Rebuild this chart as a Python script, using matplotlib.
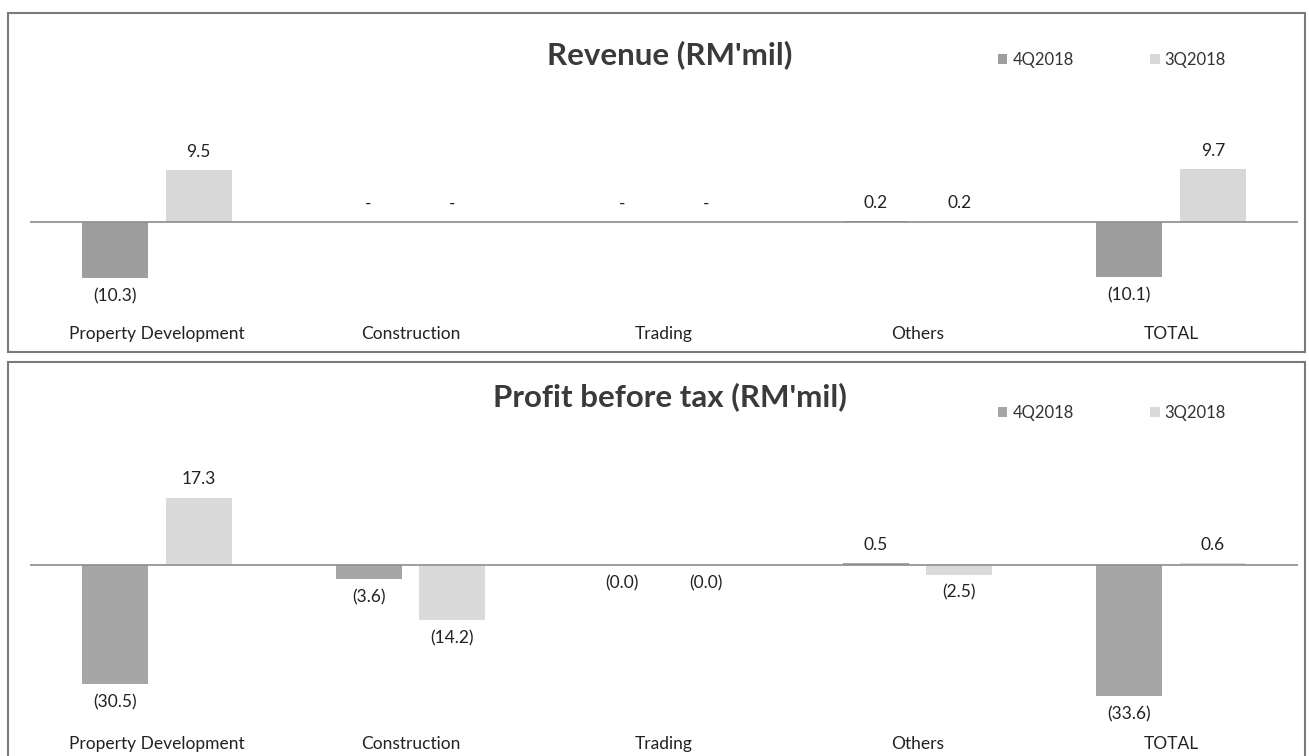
import matplotlib
matplotlib.use("Agg")
import matplotlib.pyplot as plt
from matplotlib.patches import Rectangle
import numpy as np

plt.rcParams['font.family'] = ['Lato', 'DejaVu Sans']

categories = ["Property Development", "Construction", "Trading", "Others", "TOTAL"]
series = ["4Q2018", "3Q2018"]

revenue_4q = [-10.3, 0.0, 0.0, 0.2, -10.1]
revenue_3q = [9.5, 0.0, 0.0, 0.2, 9.7]

# trading PBT shows as (0.0): small losses
profit_4q = [-30.5, -3.6, -0.02, 0.5, -33.6]
profit_3q = [17.3, -14.2, -0.02, -2.5, 0.6]

W, H = 1309, 756


def px_box(x0, y0, x1, y1):
    # pixel box (top-left origin) -> figure rect
    return [x0 / W, 1 - y1 / H, (x1 - x0) / W, (y1 - y0) / H]


def fmt(v):
    if v == 0:
        return "-"
    if v < 0:
        return "(%.1f)" % abs(v)
    return "%.1f" % v


def draw_panel(fig, box, vals_4q, vals_3q, ylim, colors, title, title_y, legend_y, tick_pad):
    ax = fig.add_axes(px_box(*box))
    x = np.arange(len(categories))
    w = 0.26
    off = 0.165
    b1 = ax.bar(x - off, vals_4q, w, color=colors[0], label=series[0])
    b2 = ax.bar(x + off, vals_3q, w, color=colors[1], label=series[1])
    for bars, vals in ((b1, vals_4q), (b2, vals_3q)):
        for rect, v in zip(bars, vals):
            cx = rect.get_x() + rect.get_width() / 2
            dy = -13 if v < 0 else 13
            ax.annotate(fmt(v), (cx, v), xytext=(0, dy), textcoords="offset points",
                        ha="center", va="center", fontsize=12.5, color="#222222")
    ax.axhline(0, color="#8c8c8c", lw=1.2)
    ax.set_xlim(-0.5, len(categories) - 0.5)
    ax.set_ylim(*ylim)
    ax.set_xticks(x)
    ax.set_xticklabels(categories, fontsize=12.5, color="#222222")
    ax.tick_params(axis="x", length=0, pad=tick_pad)
    ax.set_yticks([])
    for s in ax.spines.values():
        s.set_visible(False)
    fig.text(670 / W, 1 - title_y / H, title, ha="center", va="center",
             fontsize=22.5, fontweight="bold", color="#3a3a3a")
    ax.legend(loc="center", bbox_to_anchor=(1112 / W, 1 - legend_y / H),
              bbox_transform=fig.transFigure, ncol=2, frameon=False,
              fontsize=12, handlelength=0.55, handleheight=0.55,
              handletextpad=0.3, columnspacing=4.6, labelcolor="#333333")
    return ax


fig = plt.figure(figsize=(W / 100, H / 100), dpi=100)

# panel frames
fig.patches.append(Rectangle((8 / W, 1 - 352 / H), 1297 / W, 339 / H, transform=fig.transFigure,
                             fill=False, edgecolor="#7a7a7a", lw=1.5))
fig.patches.append(Rectangle((8 / W, -0.01), 1297 / W, 1 - 362 / H + 0.01, transform=fig.transFigure,
                             fill=False, edgecolor="#7a7a7a", lw=1.5))

draw_panel(fig, (30, 100, 1298, 318), revenue_4q, revenue_3q, (-17.5, 22.2),
           ("#9e9e9e", "#d8d8d8"), "Revenue (RM'mil)", 55, 60, 6)
draw_panel(fig, (30, 440, 1298, 726), profit_4q, profit_3q, (-41.3, 32.05),
           ("#a6a6a6", "#dadada"), "Profit before tax (RM'mil)", 397, 413, 7)

fig.savefig("out.png", dpi=100)
